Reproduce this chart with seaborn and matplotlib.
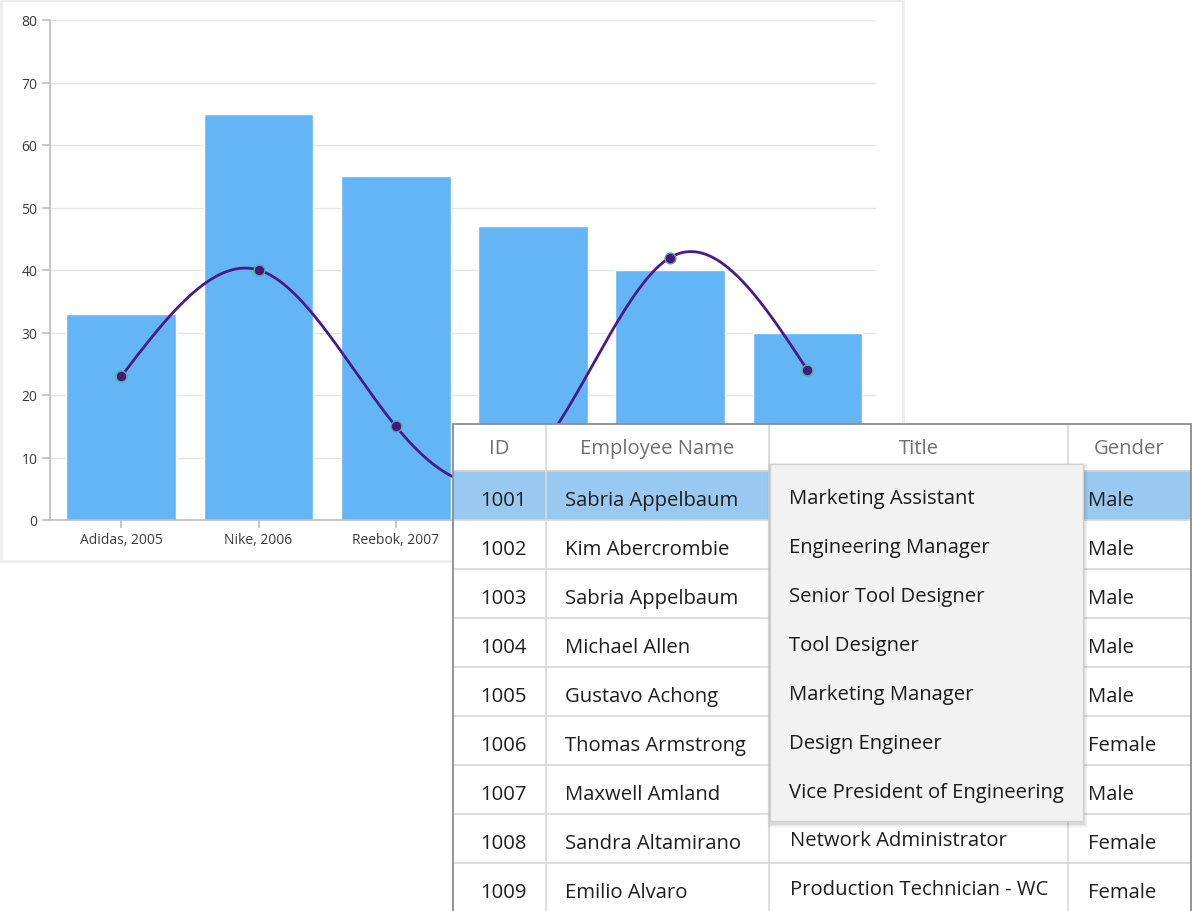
import numpy as np
import pandas as pd
import matplotlib
matplotlib.use("Agg")
import matplotlib.pyplot as plt
import seaborn as sns
from matplotlib.patches import Rectangle

# chart data
brands = ["Adidas, 2005", "Nike, 2006", "Reebok, 2007", "Puma, 2008", "Fila, 2009", "Asics, 2010"]
sales = [33, 65, 55, 47, 40, 30]
trend = [23, 40, 15, 10, 42, 24]

# grid data
emp_ids = ["1001", "1002", "1003", "1004", "1005", "1006", "1007", "1008", "1009"]
emp_names = ["Sabria Appelbaum", "Kim Abercrombie", "Sabria Appelbaum", "Michael Allen",
             "Gustavo Achong", "Thomas Armstrong", "Maxwell Amland", "Sandra Altamirano",
             "Emilio Alvaro"]
emp_titles = ["Marketing Assistant", "Engineering Manager", "Senior Tool Designer",
              "Tool Designer", "Marketing Manager", "Design Engineer",
              "Vice President of Engineering", "Network Administrator",
              "Production Technician - WC"]
emp_genders = ["Male", "Male", "Male", "Male", "Male", "Female", "Male", "Female", "Female"]
headers = ["ID", "Employee Name", "Title", "Gender"]
popup_items = ["Marketing Assistant", "Engineering Manager", "Senior Tool Designer",
               "Tool Designer", "Marketing Manager", "Design Engineer",
               "Vice President of Engineering"]


def natural_spline(x, y, xs):
    x = np.asarray(x, float)
    y = np.asarray(y, float)
    n = len(x)
    h = np.diff(x)
    A = np.zeros((n, n))
    b = np.zeros(n)
    A[0, 0] = A[-1, -1] = 1
    for i in range(1, n - 1):
        A[i, i - 1] = h[i - 1]
        A[i, i] = 2 * (h[i - 1] + h[i])
        A[i, i + 1] = h[i]
        b[i] = 6 * ((y[i + 1] - y[i]) / h[i] - (y[i] - y[i - 1]) / h[i - 1])
    M = np.linalg.solve(A, b)
    idx = np.clip(np.searchsorted(x, xs) - 1, 0, n - 2)
    t = (xs - x[idx]) / h[idx]
    hi = h[idx]
    return (M[idx] * (1 - t) ** 3 * hi ** 2 / 6 + M[idx + 1] * t ** 3 * hi ** 2 / 6
            + (y[idx] - M[idx] * hi ** 2 / 6) * (1 - t)
            + (y[idx + 1] - M[idx + 1] * hi ** 2 / 6) * t)


sns.set_theme(style="white")
plt.rcParams["font.family"] = ["Open Sans", "DejaVu Sans"]

W, H = 1192, 912
fig = plt.figure(figsize=(W / 100, H / 100), dpi=100)
fig.patch.set_facecolor("white")

# chart
ax = fig.add_axes([50 / W, 1 - 521 / H, (876 - 50) / W, 500 / H])
df = pd.DataFrame({"brand": brands, "sales": sales})
sns.barplot(data=df, x="brand", y="sales", color="#64b5f6", saturation=1,
            width=0.8, ax=ax, zorder=2)
xs = np.linspace(0, len(trend) - 1, 400)
ax.plot(xs, natural_spline(range(len(trend)), trend, xs), color="#4a1a8c", lw=2, zorder=3)
ax.scatter(range(len(trend)), trend, s=60, color="#4a1486", edgecolor="#4fae8c",
           linewidth=1, zorder=4)
ax.set_xlim(-0.52, 5.5)
ax.set_ylim(0, 80)
ax.set_yticks(range(0, 81, 10))
ax.set_xlabel("")
ax.set_ylabel("")
ax.yaxis.grid(True, color="#e6e6e6", lw=1)
ax.set_axisbelow(True)
for s in ["top", "right"]:
    ax.spines[s].set_visible(False)
for s in ["left", "bottom"]:
    ax.spines[s].set_color("#bdbdbd")
    ax.spines[s].set_linewidth(1.2)
ax.tick_params(direction="out", length=6, width=1.2, color="#bdbdbd",
               labelcolor="#3a3a3a", labelsize=10, pad=3, left=True, bottom=True)
# labels under the grid overlay are not visible in the reference
for lbl in ax.get_xticklabels()[3:]:
    lbl.set_visible(False)

# overlay in pixel coords for panel border and grid control
ov = fig.add_axes([0, 0, 1, 1])
ov.set_xlim(0, W)
ov.set_ylim(H, 0)
ov.axis("off")
ov.add_patch(Rectangle((1, 1), 902, 561, fill=False, edgecolor="#ededed", lw=2))

col_x = [453, 546, 769, 1068, 1191]
top, head_h, row_h = 425, 47, 49
n_rows = len(emp_ids)
bottom = top + head_h + row_h * n_rows

# dropdown popup box
px0, py0, px1, py1 = 770, 465, 1083, 822

ov.add_patch(Rectangle((col_x[0], top), col_x[-1] - col_x[0], bottom - top,
                       facecolor="white", edgecolor="none", zorder=1))
ov.add_patch(Rectangle((col_x[0], top + head_h), col_x[-1] - col_x[0], row_h,
                       facecolor="#99c8f0", edgecolor="none", zorder=1))
for i in range(1, n_rows):
    y = top + head_h + row_h * i
    ov.plot([col_x[0], col_x[-1]], [y, y], color="#d8d8d8", lw=1.2, zorder=2)
ov.plot([col_x[0], col_x[-1]], [top + head_h] * 2, color="#d0d0d0", lw=1.2, zorder=2)
for cx in col_x[1:-1]:
    ov.plot([cx, cx], [top, bottom], color="#d8d8d8", lw=1.2, zorder=2)
ov.add_patch(Rectangle((col_x[0], top), col_x[-1] - col_x[0], bottom - top,
                       fill=False, edgecolor="#8c8c8c", lw=1.3, zorder=3))

fs = 14.6
hy = top + head_h / 2 + 1
for k, name in enumerate(headers):
    ov.text((col_x[k] + col_x[k + 1]) / 2, hy, name, ha="center", va="center",
            fontsize=fs, color="#707070", zorder=4)
for i in range(n_rows):
    cy = top + head_h + row_h * i + row_h / 2 + 5
    ov.text((col_x[0] + col_x[1]) / 2 + 4, cy, emp_ids[i], ha="center", va="center",
            fontsize=fs, color="#1e1e1e", zorder=4)
    ov.text(565, cy, emp_names[i], ha="left", va="center", fontsize=fs, color="#1e1e1e", zorder=4)
    if cy > py1:
        ov.text(790, cy - 3, emp_titles[i], ha="left", va="center", fontsize=fs,
                color="#1e1e1e", zorder=4)
    ov.text(1088, cy, emp_genders[i], ha="left", va="center", fontsize=fs, color="#1e1e1e", zorder=4)

# popup with soft shadow
for k, a in enumerate([0.05, 0.04, 0.03, 0.02]):
    d = k + 1
    ov.add_patch(Rectangle((px0 - d + 1, py0 - d + 2), px1 - px0 + 2 * d, py1 - py0 + 2 * d + 1,
                           facecolor="black", alpha=a, edgecolor="none", zorder=5))
ov.add_patch(Rectangle((px0, py0), px1 - px0, py1 - py0, facecolor="#f2f2f2",
                       edgecolor="#d2d2d2", lw=1, zorder=6))
for i, item in enumerate(popup_items):
    ov.text(789, 499 + row_h * i, item, ha="left", va="center", fontsize=fs,
            color="#1a1a1a", zorder=7)

fig.savefig("out.png", dpi=100, facecolor="white")
